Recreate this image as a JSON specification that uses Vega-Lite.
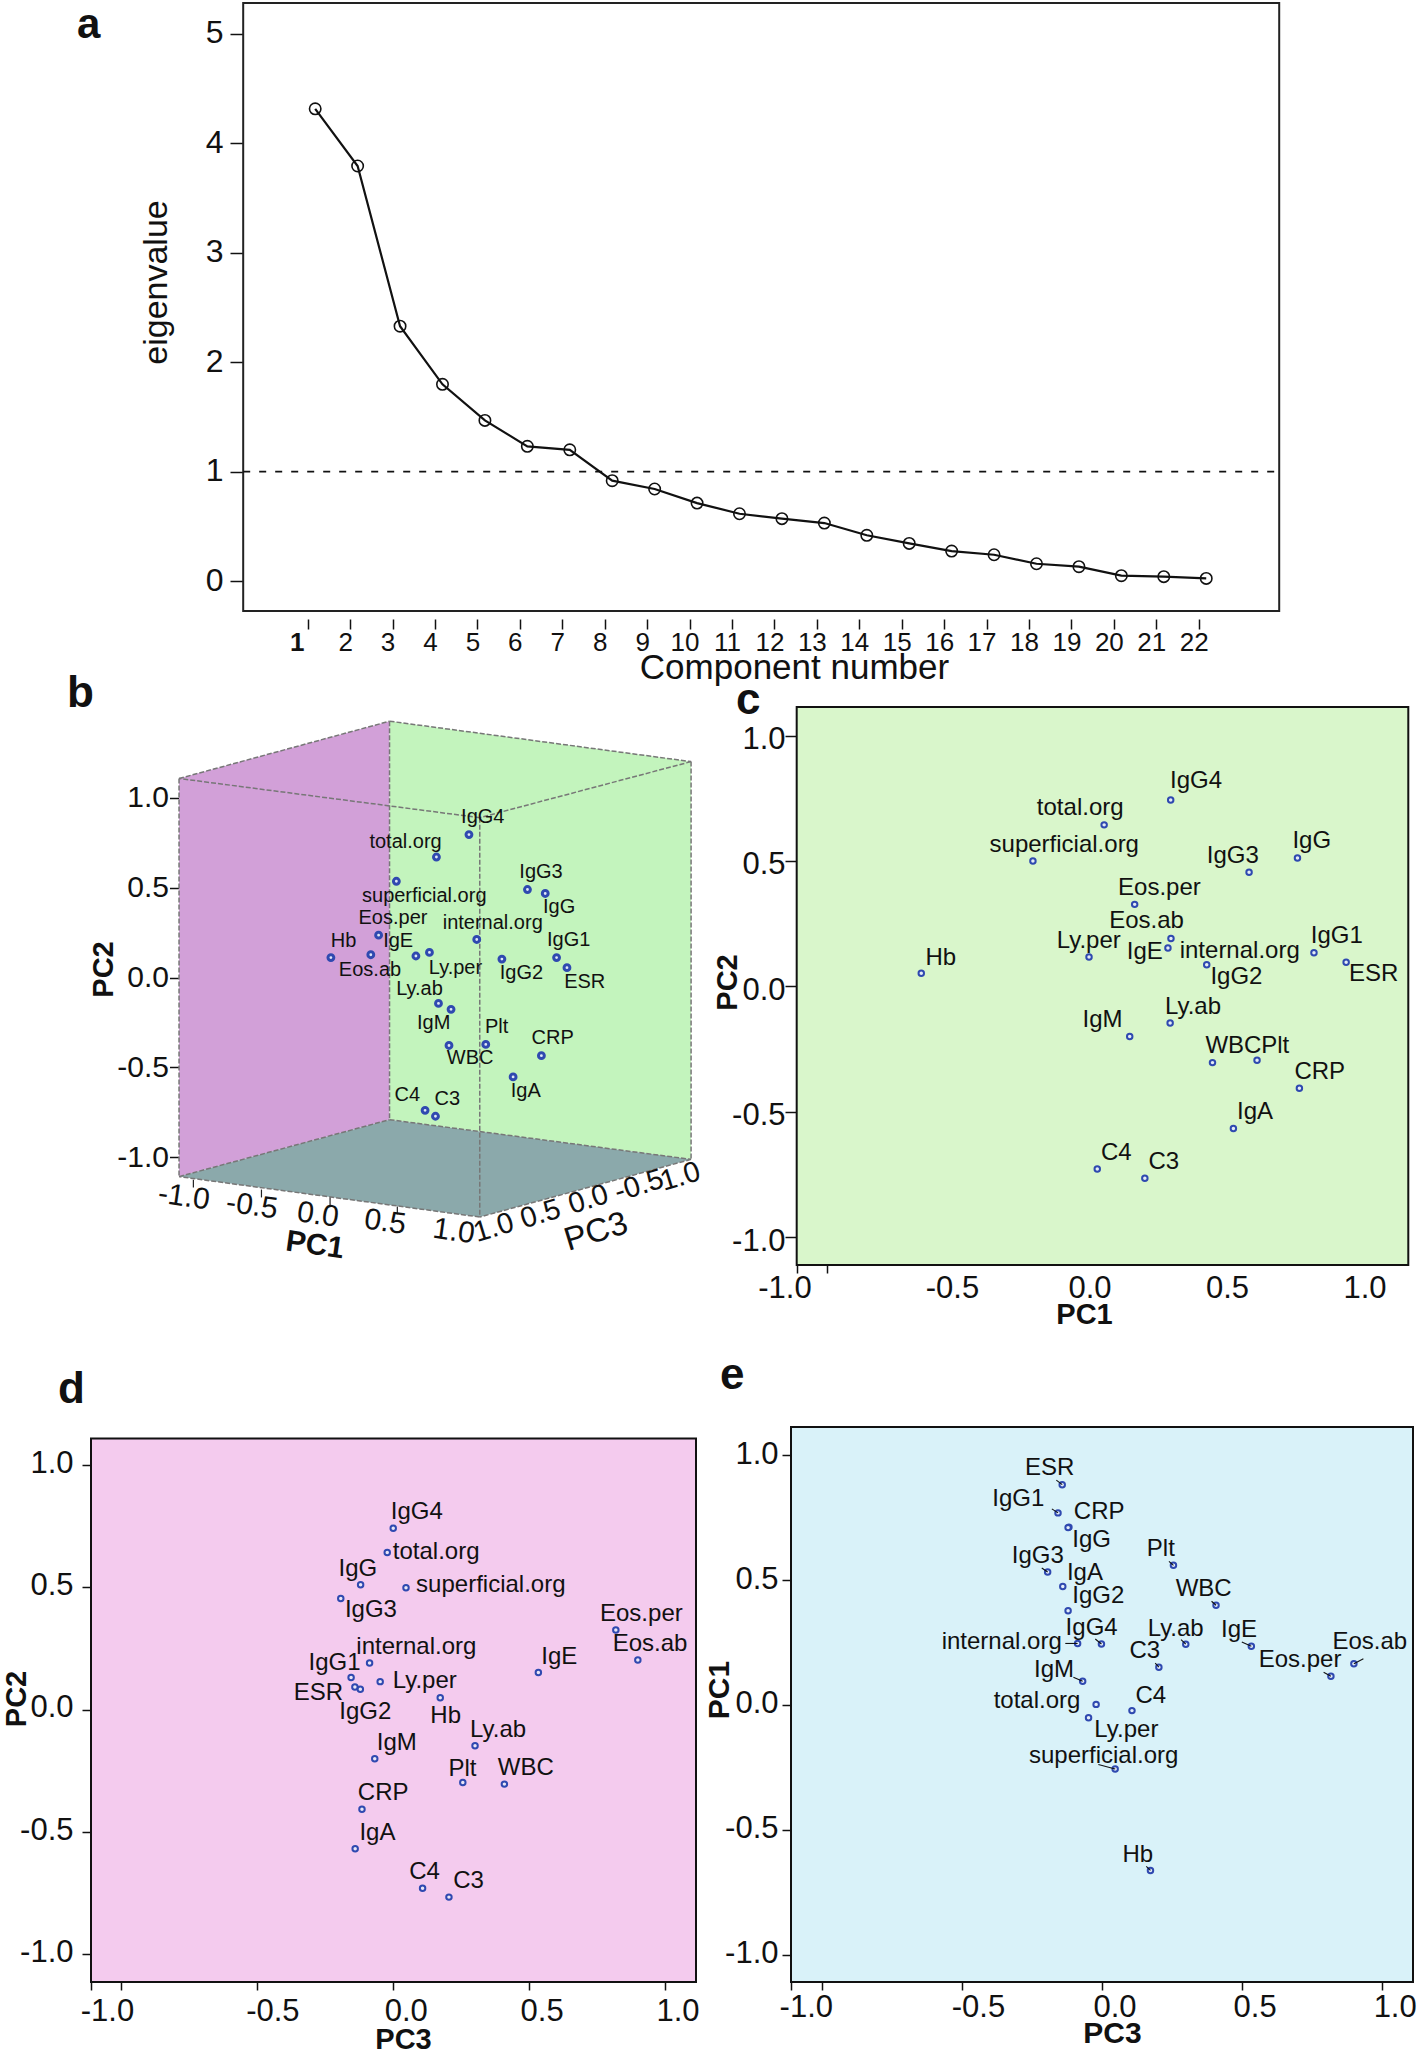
{
"$schema":"https://vega.github.io/schema/vega-lite/v6.json",
"background":"white",
"padding":{"top":2,"left":0,"right":0,"bottom":0},
"autosize":{"type":"pad"},
"config":{"font":"Liberation Sans","view":{"stroke":null},"axis":{"grid":false,"domain":false,"tickColor":"#111","tickWidth":1.5,"labelColor":"#111","titleColor":"#111","labelFont":"Liberation Sans","titleFont":"Liberation Sans","labelBound":false,"labelFlush":false,"labelOverlap":false,"titleBaseline":"middle","titleAlign":"center","titleAnchor":null}},
"datasets":{
"scree":[{"c":1,"v":4.316},{"c":2,"v":3.793},{"c":3,"v":2.329},{"c":4,"v":1.798},{"c":5,"v":1.468},{"c":6,"v":1.231},{"c":7,"v":1.199},{"c":8,"v":0.917},{"c":9,"v":0.841},{"c":10,"v":0.712},{"c":11,"v":0.615},{"c":12,"v":0.57},{"c":13,"v":0.53},{"c":14,"v":0.418},{"c":15,"v":0.344},{"c":16,"v":0.274},{"c":17,"v":0.24},{"c":18,"v":0.158},{"c":19,"v":0.131},{"c":20,"v":0.049},{"c":21,"v":0.04},{"c":22,"v":0.024}],
"b":[{"name":"IgG4","x":1.021,"y":0.796,"lx":1.122,"ly":0.892},{"name":"total.org","x":0.783,"y":0.671,"lx":0.557,"ly":0.754},{"name":"superficial.org","x":0.49,"y":0.536,"lx":0.694,"ly":0.455},{"name":"IgG3","x":1.449,"y":0.49,"lx":1.548,"ly":0.586},{"name":"IgG","x":1.579,"y":0.468,"lx":1.681,"ly":0.393},{"name":"Eos.per","x":0.36,"y":0.236,"lx":0.465,"ly":0.332},{"name":"Eos.ab","x":0.303,"y":0.127,"lx":0.297,"ly":0.044},{"name":"Hb","x":0.011,"y":0.111,"lx":0.103,"ly":0.203},{"name":"IgE","x":0.633,"y":0.12,"lx":0.503,"ly":0.203},{"name":"Ly.per","x":0.732,"y":0.14,"lx":0.922,"ly":0.055},{"name":"internal.org","x":1.078,"y":0.212,"lx":1.195,"ly":0.306},{"name":"IgG2","x":1.262,"y":0.103,"lx":1.405,"ly":0.026},{"name":"IgG1","x":1.662,"y":0.111,"lx":1.751,"ly":0.208},{"name":"ESR","x":1.738,"y":0.055,"lx":1.868,"ly":-0.024},{"name":"Ly.ab","x":0.798,"y":-0.144,"lx":0.659,"ly":-0.066},{"name":"IgM","x":0.89,"y":-0.177,"lx":0.763,"ly":-0.251},{"name":"WBC","x":0.875,"y":-0.378,"lx":1.03,"ly":-0.45},{"name":"Plt","x":1.144,"y":-0.372,"lx":1.224,"ly":-0.278},{"name":"CRP","x":1.551,"y":-0.435,"lx":1.633,"ly":-0.339},{"name":"IgA","x":1.344,"y":-0.553,"lx":1.437,"ly":-0.632},{"name":"C4","x":0.7,"y":-0.739,"lx":0.57,"ly":-0.656},{"name":"C3","x":0.776,"y":-0.772,"lx":0.862,"ly":-0.675}],
"c":[{"name":"IgG4","x":0.248,"y":0.743,"lx":0.34,"ly":0.819},{"name":"total.org","x":0.006,"y":0.644,"lx":-0.081,"ly":0.71},{"name":"superficial.org","x":-0.253,"y":0.5,"lx":-0.139,"ly":0.564},{"name":"IgG3","x":0.533,"y":0.455,"lx":0.474,"ly":0.52},{"name":"IgG","x":0.709,"y":0.512,"lx":0.761,"ly":0.579},{"name":"Eos.per","x":0.117,"y":0.327,"lx":0.207,"ly":0.393},{"name":"Eos.ab","x":null,"y":null,"lx":0.16,"ly":0.262},{"name":"internal.org","x":0.249,"y":0.191,"lx":0.499,"ly":0.143},{"name":"IgE","x":0.238,"y":0.153,"lx":0.154,"ly":0.136},{"name":"Ly.per","x":-0.049,"y":0.117,"lx":-0.05,"ly":0.181},{"name":"IgG1","x":0.769,"y":0.134,"lx":0.852,"ly":0.2},{"name":"ESR","x":0.886,"y":0.096,"lx":0.986,"ly":0.049},{"name":"IgG2","x":0.379,"y":0.086,"lx":0.487,"ly":0.039},{"name":"Hb","x":-0.659,"y":0.052,"lx":-0.588,"ly":0.114},{"name":"Ly.ab","x":0.246,"y":-0.146,"lx":0.329,"ly":-0.081},{"name":"IgM","x":0.099,"y":-0.2,"lx":0,"ly":-0.134},{"name":"WBC","x":0.4,"y":-0.304,"lx":0.476,"ly":-0.237},{"name":"Plt","x":0.562,"y":-0.295,"lx":0.628,"ly":-0.237},{"name":"CRP","x":0.716,"y":-0.406,"lx":0.79,"ly":-0.342},{"name":"IgA","x":0.476,"y":-0.567,"lx":0.555,"ly":-0.502},{"name":"C4","x":-0.019,"y":-0.728,"lx":0.05,"ly":-0.664},{"name":"C3","x":0.154,"y":-0.765,"lx":0.223,"ly":-0.7}],
"d":[{"name":"IgG4","x":0,"y":0.742,"lx":0.087,"ly":0.81},{"name":"total.org","x":-0.022,"y":0.643,"lx":0.158,"ly":0.647},{"name":"IgG","x":-0.12,"y":0.511,"lx":-0.13,"ly":0.576},{"name":"superficial.org","x":0.047,"y":0.499,"lx":0.359,"ly":0.51},{"name":"IgG3","x":-0.193,"y":0.455,"lx":-0.082,"ly":0.407},{"name":"Eos.per","x":0.819,"y":0.326,"lx":0.913,"ly":0.39},{"name":"Eos.ab","x":0.9,"y":0.203,"lx":0.945,"ly":0.268},{"name":"internal.org","x":-0.087,"y":0.191,"lx":0.085,"ly":0.255},{"name":"IgG1","x":-0.155,"y":0.132,"lx":-0.216,"ly":0.191},{"name":"IgE","x":0.534,"y":0.152,"lx":0.611,"ly":0.216},{"name":"Ly.per","x":-0.048,"y":0.115,"lx":0.116,"ly":0.117},{"name":"ESR","x":-0.141,"y":0.093,"lx":-0.275,"ly":0.068},{"name":"IgG2","x":-0.121,"y":0.084,"lx":-0.103,"ly":-0.011},{"name":"Hb","x":0.173,"y":0.049,"lx":0.193,"ly":-0.027},{"name":"Ly.ab","x":0.301,"y":-0.147,"lx":0.386,"ly":-0.082},{"name":"IgM","x":-0.068,"y":-0.2,"lx":0.013,"ly":-0.136},{"name":"Plt","x":0.256,"y":-0.297,"lx":0.255,"ly":-0.244},{"name":"WBC","x":0.409,"y":-0.304,"lx":0.488,"ly":-0.238},{"name":"CRP","x":-0.115,"y":-0.407,"lx":-0.037,"ly":-0.341},{"name":"IgA","x":-0.14,"y":-0.568,"lx":-0.058,"ly":-0.504},{"name":"C4","x":0.108,"y":-0.73,"lx":0.115,"ly":-0.664},{"name":"C3","x":0.205,"y":-0.766,"lx":0.277,"ly":-0.702}],
"e":[{"name":"ESR","x":-0.142,"y":0.882,"lx":-0.187,"ly":0.949,"ex":-0.163,"ey":0.9},{"name":"IgG1","x":-0.157,"y":0.769,"lx":-0.299,"ly":0.823,"ex":-0.179,"ey":0.785},{"name":"CRP","x":-0.118,"y":0.712,"lx":-0.01,"ly":0.774},{"name":"IgG","x":-0.121,"y":0.71,"lx":-0.037,"ly":0.659},{"name":"Plt","x":0.255,"y":0.559,"lx":0.21,"ly":0.624,"ex":0.239,"ey":0.575},{"name":"IgG3","x":-0.194,"y":0.532,"lx":-0.229,"ly":0.597,"ex":-0.215,"ey":0.548},{"name":"IgA","x":-0.14,"y":0.474,"lx":-0.061,"ly":0.53},{"name":"IgG2","x":-0.121,"y":0.377,"lx":-0.013,"ly":0.437},{"name":"WBC","x":0.407,"y":0.399,"lx":0.363,"ly":0.465,"ex":0.391,"ey":0.415},{"name":"internal.org","x":-0.087,"y":0.246,"lx":-0.358,"ly":0.25,"ex":-0.131,"ey":0.246},{"name":"IgG4","x":-0.002,"y":0.244,"lx":-0.037,"ly":0.307,"ex":-0.024,"ey":0.264},{"name":"Ly.ab","x":0.299,"y":0.243,"lx":0.263,"ly":0.304,"ex":0.282,"ey":0.261},{"name":"IgE","x":0.533,"y":0.235,"lx":0.489,"ly":0.3,"ex":0.499,"ey":0.252},{"name":"C3","x":0.203,"y":0.151,"lx":0.153,"ly":0.214,"ex":0.19,"ey":0.167},{"name":"Eos.ab","x":0.899,"y":0.165,"lx":0.956,"ly":0.252,"ex":0.933,"ey":0.185},{"name":"Eos.per","x":0.817,"y":0.115,"lx":0.707,"ly":0.178,"ex":0.791,"ey":0.131},{"name":"IgM","x":-0.069,"y":0.095,"lx":-0.171,"ly":0.138,"ex":-0.102,"ey":0.111},{"name":"total.org","x":-0.021,"y":0.002,"lx":-0.232,"ly":0.016},{"name":"C4","x":0.107,"y":-0.023,"lx":0.174,"ly":0.034},{"name":"Ly.per","x":-0.048,"y":-0.052,"lx":0.087,"ly":-0.101},{"name":"superficial.org","x":0.047,"y":-0.257,"lx":0.006,"ly":-0.203,"ex":-0.013,"ey":-0.239},{"name":"Hb","x":0.173,"y":-0.663,"lx":0.128,"ly":-0.602,"ex":0.158,"ey":-0.647}],
"edges":[{"x":-1.1,"y":1.108,"x2":0.44,"y2":1.427},{"x":0.44,"y":1.427,"x2":2.646,"y2":1.202},{"x":2.646,"y":1.202,"x2":1.1,"y2":0.89},{"x":1.1,"y":0.89,"x2":-1.1,"y2":1.108},{"x":0.44,"y":1.427,"x2":0.44,"y2":-0.791},{"x":2.646,"y":1.202,"x2":2.646,"y2":-1.012},{"x":1.1,"y":0.89,"x2":1.1,"y2":-1.333},{"x":-1.1,"y":1.108,"x2":-1.1,"y2":-1.108},{"x":-1.1,"y":-1.108,"x2":0.44,"y2":-0.791},{"x":0.44,"y":-0.791,"x2":2.646,"y2":-1.012},{"x":2.646,"y":-1.012,"x2":1.1,"y2":-1.333},{"x":1.1,"y":-1.333,"x2":-1.1,"y2":-1.108}],
"bticks":[{"x":-0.995,"y":-1.126,"y2":-1.169},{"x":-0.497,"y":-1.18,"y2":-1.224},{"x":0.005,"y":-1.224,"y2":-1.268},{"x":0.497,"y":-1.274,"y2":-1.318}]
},
"concat":[
{"data":{"values":[]},"mark":"point","width":91,"height":608,"encoding":{}},
{"width":700,"height":608,
 "title":{"text":"a","anchor":"start","frame":"group","align":"left","baseline":"alphabetic","offset":0,"dx":-14,"dy":78,"fontSize":42,"fontWeight":"bold","font":"Liberation Sans","color":"#111"},
 "layer":[
  {"data":{"values":[{"x":-0.697,"x2":23.72,"y":-0.274,"y2":5.283}]},"mark":{"type":"rect","fill":"white","stroke":"#222","strokeWidth":2},"encoding":{
    "x":{"field":"x","type":"quantitative","scale":{"domain":[-4.284,23.72],"range":[0,1188.2],"nice":false,"zero":false},"axis":{"values":[1,2,3,4,5,6,7,8,9,10,11,12,13,14,15,16,17,18,19,20,21,22],"tickCount":40,"format":"d","offset":8,"tickSize":10,"tickOffset":-7.5,"labelPadding":0,"labelFontSize":26,"labelOverlap":false,"labelOffset":{"condition":{"test":"datum.value==1","value":-11},"value":-5},"labelFontWeight":{"condition":{"test":"datum.value==1","value":"bold"},"value":"normal"},"title":"Component number","titleFontSize":35,"titleFontWeight":"normal","titleX":703,"titleY":48}},
    "x2":{"field":"x2"},
    "y":{"field":"y","type":"quantitative","scale":{"domain":[-0.274,5.283],"nice":false,"zero":false},"axis":{"values":[0,1,2,3,4,5],"format":"d","offset":-152,"tickSize":13,"labelPadding":7,"labelFontSize":32,"labelOffset":-1,"title":"eigenvalue","titleFontSize":34,"titleFontWeight":"normal","titleX":-87,"titleY":279}},
    "y2":{"field":"y2"}}},
  {"data":{"name":"scree"},"mark":{"type":"line","color":"#111","strokeWidth":2.2},"encoding":{"x":{"field":"c","type":"quantitative"},"y":{"field":"v","type":"quantitative"}}},
  {"data":{"name":"scree"},"mark":{"type":"point","shape":"circle","filled":false,"stroke":"#111","strokeWidth":1.6,"size":130,"opacity":1},"encoding":{"x":{"field":"c","type":"quantitative"},"y":{"field":"v","type":"quantitative"}}},
  {"data":{"values":[{"a":-0.697,"b":23.72,"h":1}]},"mark":{"type":"rule","color":"#111","strokeWidth":1.6,"strokeDash":[7,9]},"encoding":{"x":{"field":"a","type":"quantitative"},"x2":{"field":"b"},"y":{"field":"h","type":"quantitative"}}}
 ]},
{"data":{"values":[]},"mark":"point","width":1,"height":608,"encoding":{}},

{"data":{"values":[]},"mark":"point","width":91,"height":96,"encoding":{}},
{"data":{"values":[]},"mark":"point","width":700,"height":96,"encoding":{}},
{"data":{"values":[]},"mark":"point","width":1,"height":96,"encoding":{}},

{"data":{"values":[]},"mark":"point","width":91,"height":558,"encoding":{}},
{"width":700,"height":558,
 "title":{"text":"b","anchor":"start","frame":"group","align":"left","baseline":"alphabetic","offset":0,"dx":-24,"dy":43.5,"fontSize":44,"fontWeight":"bold","font":"Liberation Sans","color":"#111"},
 "layer":[
  {"data":{"values":[{"x":-1.1,"y":1.108,"y2":-1.108},{"x":0.44,"y":1.427,"y2":-0.791}]},"mark":{"type":"area","color":"#d2a0d8","opacity":1},"encoding":{
    "x":{"field":"x","type":"quantitative","scale":{"domain":[-1.744,3.377],"nice":false,"zero":false},"axis":null},
    "y":{"field":"y","type":"quantitative","scale":{"domain":[-1.6,1.506],"nice":false,"zero":false},"axis":{"values":[-1,-0.5,0,0.5,1],"offset":-88,"labelExpr":"(datum.value<0?'-':'')+format(abs(datum.value),'.1f')","tickSize":9.5,"labelPadding":1,"labelFontSize":30,"title":"PC2","titleFontSize":29,"titleFontWeight":"bold","titleX":-76,"titleY":262}},
    "y2":{"field":"y2"}}},
  {"data":{"values":[{"x":0.44,"y":1.427,"y2":-0.791},{"x":2.646,"y":1.202,"y2":-1.012}]},"mark":{"type":"area","color":"#c3f4bd","opacity":1},"encoding":{"x":{"field":"x","type":"quantitative"},"y":{"field":"y","type":"quantitative"},"y2":{"field":"y2"}}},
  {"data":{"values":[{"x":-1.1,"y":-1.108,"y2":-1.108},{"x":0.44,"y":-0.791,"y2":-1.266},{"x":1.1,"y":-0.857,"y2":-1.333},{"x":2.646,"y":-1.012,"y2":-1.012}]},"mark":{"type":"area","color":"#8ba9ab","opacity":1},"encoding":{"x":{"field":"x","type":"quantitative"},"y":{"field":"y","type":"quantitative"},"y2":{"field":"y2"}}},
  {"data":{"name":"edges"},"mark":{"type":"rule","color":"#777","strokeWidth":1.5,"strokeDash":[5,2]},"encoding":{"x":{"field":"x","type":"quantitative"},"y":{"field":"y","type":"quantitative"},"x2":{"field":"x2"},"y2":{"field":"y2"}}},
  {"data":{"name":"bticks"},"mark":{"type":"rule","color":"#222","strokeWidth":1.2},"encoding":{"x":{"field":"x","type":"quantitative"},"y":{"field":"y","type":"quantitative"},"y2":{"field":"y2"}}},
  {"data":{"name":"b"},"mark":{"type":"point","shape":"circle","filled":true,"fill":"#dfe8f7","stroke":"#2f49b0","strokeWidth":3,"size":34,"opacity":1},"encoding":{"x":{"field":"x","type":"quantitative"},"y":{"field":"y","type":"quantitative"}}},
  {"data":{"name":"b"},"mark":{"type":"text","fontSize":20,"color":"#111","align":"center","baseline":"middle"},"encoding":{"x":{"field":"lx","type":"quantitative"},"y":{"field":"ly","type":"quantitative"},"text":{"field":"name"}}},
  {"data":{"values":[{"t":"-1.0","x":-1.065,"y":-1.222},{"t":"-0.5","x":-0.567,"y":-1.272},{"t":"0.0","x":-0.084,"y":-1.322},{"t":"0.5","x":0.408,"y":-1.362},{"t":"1.0","x":0.91,"y":-1.414}]},"mark":{"type":"text","fontSize":30,"angle":8,"color":"#111","align":"center","baseline":"middle"},"encoding":{"x":{"field":"x","type":"quantitative"},"y":{"field":"y","type":"quantitative"},"text":{"field":"t"}}},
  {"data":{"values":[{"t":"1.0","x":1.202,"y":-1.392},{"t":"0.5","x":1.544,"y":-1.316},{"t":"0.0","x":1.894,"y":-1.235},{"t":"-0.5","x":2.265,"y":-1.158},{"t":"1.0","x":2.567,"y":-1.108}]},"mark":{"type":"text","fontSize":29,"angle":-17,"color":"#111","align":"center","baseline":"middle"},"encoding":{"x":{"field":"x","type":"quantitative"},"y":{"field":"y","type":"quantitative"},"text":{"field":"t"}}},
  {"data":{"values":[{"t":"PC3","x":1.951,"y":-1.416}]},"mark":{"type":"text","fontSize":33,"angle":-17,"color":"#111","align":"center","baseline":"middle"},"encoding":{"x":{"field":"x","type":"quantitative"},"y":{"field":"y","type":"quantitative"},"text":{"field":"t"}}},
  {"data":{"values":[{"t":"PC1","x":-0.106,"y":-1.491}]},"mark":{"type":"text","fontSize":30,"fontWeight":"bold","angle":8,"color":"#111","align":"center","baseline":"middle"},"encoding":{"x":{"field":"x","type":"quantitative"},"y":{"field":"y","type":"quantitative"},"text":{"field":"t"}}}
 ]},
{"width":627,"height":558,
 "title":{"text":"c","anchor":"start","frame":"group","align":"left","baseline":"alphabetic","offset":0,"dx":-55,"dy":52,"fontSize":44,"fontWeight":"bold","font":"Liberation Sans","color":"#111"},
 "data":{"name":"c"},
 "layer":[
  {"data":{"values":[{"x":-1.112,"x2":1.112,"y":-1.111,"y2":1.114}]},"mark":{"type":"rect","fill":"#d9f6cb","stroke":"#111","strokeWidth":2},"encoding":{
    "x":{"field":"x","type":"quantitative","scale":{"domain":[-1.1327,1.1473],"nice":false,"zero":false},"axis":{"values":[-1.112,-1,-0.5,0,0.5,1],"labelExpr":"datum.value<-1.05?'':(datum.value<0?'-':'')+format(abs(datum.value),'.1f')","tickSize":8,"labelPadding":0,"labelFontSize":31,"labelOffset":{"condition":{"test":"datum.value==-1","value":-43},"value":-13},"tickOpacity":{"condition":{"test":"datum.value<-0.9","value":1},"value":0},"title":"PC1","titleFontSize":29,"titleFontWeight":"bold","titleX":293,"titleY":49}},
    "x2":{"field":"x2"},
    "y":{"field":"y","type":"quantitative","scale":{"domain":[-1.111,1.114],"nice":false,"zero":false},"axis":{"values":[-1,-0.5,0,0.5,1],"offset":-6,"labelExpr":"(datum.value<0?'-':'')+format(abs(datum.value),'.1f')","tickSize":12,"labelPadding":0,"labelFontSize":31,"labelOffset":4,"title":"PC2","titleFontSize":29,"titleFontWeight":"bold","titleX":-70,"titleY":275}},
    "y2":{"field":"y2"}}},
  {"mark":{"type":"point","shape":"circle","filled":true,"fill":"#e4ecf6","stroke":"#2f49b0","strokeWidth":2,"size":30,"opacity":1},"encoding":{"x":{"field":"x","type":"quantitative"},"y":{"field":"y","type":"quantitative"}}},
  {"mark":{"type":"text","fontSize":24,"color":"#111","align":"center","baseline":"middle"},"encoding":{"x":{"field":"lx","type":"quantitative"},"y":{"field":"ly","type":"quantitative"},"text":{"field":"name"}}}
 ]},

{"data":{"values":[]},"mark":"point","width":91,"height":162,"encoding":{}},
{"data":{"values":[]},"mark":"point","width":700,"height":162,"encoding":{}},
{"data":{"values":[]},"mark":"point","width":1,"height":162,"encoding":{}},

{"data":{"values":[]},"mark":"point","width":91,"height":555,"encoding":{}},
{"width":605,"height":555,
 "title":{"text":"d","anchor":"start","frame":"group","align":"left","baseline":"alphabetic","offset":0,"dx":-33,"dy":20,"fontSize":44,"fontWeight":"bold","font":"Liberation Sans","color":"#111"},
 "data":{"name":"d"},
 "layer":[
  {"data":{"values":[{"x":-1.112,"x2":1.114,"y":-1.113,"y2":1.109}]},"mark":{"type":"rect","fill":"#f4cbee","stroke":"#111","strokeWidth":2},"encoding":{
    "x":{"field":"x","type":"quantitative","scale":{"domain":[-1.112,1.114],"nice":false,"zero":false},"axis":{"values":[-1.112,-1,-0.5,0,0.5,1],"labelExpr":"datum.value<-1.05?'':(datum.value<0?'-':'')+format(abs(datum.value),'.1f')","tickSize":8,"labelPadding":6,"labelFontSize":31,"labelOffset":{"condition":[{"test":"datum.value==-1","value":-14.5},{"test":"datum.value==-0.5","value":15}],"value":12.5},"title":"PC3","titleFontSize":29,"titleFontWeight":"bold","titleX":312,"titleY":57}},
    "x2":{"field":"x2"},
    "y":{"field":"y","type":"quantitative","scale":{"domain":[-1.113,1.156],"nice":false,"zero":false},"axis":{"values":[-1,-0.5,0,0.5,1],"labelExpr":"(datum.value<0?'-':'')+format(abs(datum.value),'.1f')","tickSize":9,"labelPadding":9,"labelFontSize":31,"labelOffset":-2,"title":"PC2","titleFontSize":29,"titleFontWeight":"bold","titleX":-74.5,"titleY":271.5}},
    "y2":{"field":"y2"}}},
  {"mark":{"type":"point","shape":"circle","filled":true,"fill":"#e9e6f6","stroke":"#2f49b0","strokeWidth":2,"size":30,"opacity":1},"encoding":{"x":{"field":"x","type":"quantitative"},"y":{"field":"y","type":"quantitative"}}},
  {"mark":{"type":"text","fontSize":24,"color":"#111","align":"center","baseline":"middle"},"encoding":{"x":{"field":"lx","type":"quantitative"},"y":{"field":"ly","type":"quantitative"},"text":{"field":"name"}}}
 ]},
{"width":622,"height":555,"view":{"fill":"#d9f2f9","stroke":"#111","strokeWidth":2},
 "title":{"text":"e","anchor":"start","frame":"group","align":"left","baseline":"alphabetic","offset":0,"dx":-71,"dy":6,"fontSize":44,"fontWeight":"bold","font":"Liberation Sans","color":"#111"},
 "data":{"name":"e"},
 "layer":[
  {"mark":{"type":"point","shape":"circle","filled":true,"fill":"#e4eefa","stroke":"#2f49b0","strokeWidth":2,"size":30,"opacity":1},"encoding":{
    "x":{"field":"x","type":"quantitative","scale":{"domain":[-1.11,1.11],"nice":false,"zero":false},"axis":{"values":[-1.11,-1,-0.5,0,0.5,1],"labelExpr":"datum.value<-1.05?'':(datum.value<0?'-':'')+format(abs(datum.value),'.1f')","tickSize":8,"labelPadding":2,"labelFontSize":31,"labelOffset":{"condition":[{"test":"datum.value==-1","value":-16},{"test":"datum.value==-0.5","value":16}],"value":12.5},"title":"PC3","titleFontSize":30,"titleFontWeight":"bold","titleX":321,"titleY":51.5}},
    "y":{"field":"y","type":"quantitative","scale":{"domain":[-1.11,1.113],"nice":false,"zero":false},"axis":{"values":[-1,-0.5,0,0.5,1],"labelExpr":"(datum.value<0?'-':'')+format(abs(datum.value),'.1f')","tickSize":9,"labelPadding":4,"labelFontSize":31,"labelOffset":-1,"title":"PC1","titleFontSize":30,"titleFontWeight":"bold","titleX":-72,"titleY":262.6}}}},
  {"transform":[{"filter":"isValid(datum.ex)"}],"mark":{"type":"rule","color":"#111","strokeWidth":1.1},"encoding":{"x":{"field":"ex","type":"quantitative"},"y":{"field":"ey","type":"quantitative"},"x2":{"field":"x"},"y2":{"field":"y"}}},
  {"mark":{"type":"text","fontSize":24,"color":"#111","align":"center","baseline":"middle"},"encoding":{"x":{"field":"lx","type":"quantitative"},"y":{"field":"ly","type":"quantitative"},"text":{"field":"name"}}}
 ]}
],
"columns":3,
"spacing":0,
"bounds":"flush",
"align":"none"
}
